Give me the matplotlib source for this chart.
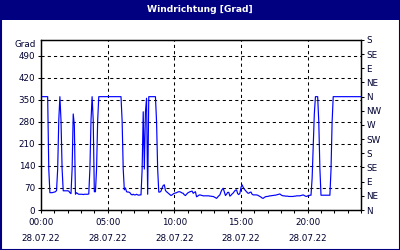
import matplotlib
matplotlib.use("Agg")
import matplotlib.pyplot as plt
from matplotlib.patches import Rectangle
from matplotlib.ticker import MultipleLocator, FixedLocator
import numpy as np

# wind direction [deg], 5 minute samples, 28.07.22 00:00 .. 24:00 (one row per hour)
richtung = [
    360, 360, 360, 360, 360, 360, 360, 130, 55, 55, 55, 56,
    57, 58, 62, 130, 285, 360, 285, 130, 61, 61, 61, 61,
    61, 60, 55, 52, 130, 305, 270, 50, 55, 52, 50, 50,
    50, 50, 49, 50, 50, 50, 50, 51, 130, 284, 360, 284,
    58, 58, 130, 284, 360, 360, 360, 360, 360, 360, 360, 360,
    360, 360, 360, 360, 360, 360, 360, 360, 360, 360, 360, 360,
    360, 284, 130, 64, 70, 58, 57, 57, 55, 50, 48, 50,
    48, 48, 50, 48, 47, 48, 48, 127, 312, 130, 312, 355,
    50, 360, 360, 360, 360, 360, 360, 360, 280, 130, 57, 57,
    60, 70, 78, 80, 62, 58, 55, 52, 49, 46, 48, 51,
    53, 54, 55, 57, 58, 58, 56, 54, 53, 48, 46, 50,
    54, 56, 58, 59, 60, 53, 56, 58, 42, 44, 47, 48,
    47, 46, 45, 45, 45, 45, 45, 45, 44, 44, 43, 43,
    41, 39, 37, 41, 45, 48, 58, 65, 69, 57, 46, 50,
    56, 56, 44, 47, 51, 54, 59, 63, 64, 52, 49, 53,
    72, 80, 72, 66, 62, 58, 54, 53, 56, 57, 50, 48,
    48, 48, 48, 47, 45, 43, 41, 38, 37, 40, 42, 43,
    43, 44, 45, 45, 46, 46, 47, 47, 48, 49, 50, 51,
    48, 46, 45, 45, 44, 44, 44, 43, 43, 43, 43, 43,
    44, 44, 45, 45, 45, 45, 46, 47, 48, 46, 44, 43,
    45, 45, 47, 47, 100, 200, 306, 360, 360, 360, 280, 131,
    47, 47, 47, 47, 47, 47, 47, 47, 47, 127, 280, 360,
    360, 360, 360, 360, 360, 360, 360, 360, 360, 360, 360, 360,
    360, 360, 360, 360, 360, 360, 360, 360, 360, 360, 360, 360,
    360,
]
stunden = np.arange(len(richtung)) / 12.0

x_ticks = [0, 5, 10, 15, 20]
x_labels = ["00:00\n28.07.22", "05:00\n28.07.22", "10:00\n28.07.22",
            "15:00\n28.07.22", "20:00\n28.07.22"]
y_ticks = [0, 70, 140, 210, 280, 350, 420, 490]
kompass = ["N", "NE", "E", "SE", "S", "SW", "W", "NW", "N", "NE", "E", "SE", "S"]
kompass_grad = [45 * i for i in range(len(kompass))]

navy = "#000080"
txt = "#000030"

fig = plt.figure(figsize=(4, 2.5), dpi=100)
fig.patch.set_facecolor("white")

# title bar + frame
fig.patches.append(Rectangle((0, 1 - 20 / 250), 1, 20 / 250, transform=fig.transFigure,
                             facecolor=navy, edgecolor="none", zorder=0))
fig.patches.append(Rectangle((0.5 / 400, 0.5 / 250), 1 - 1 / 400, 1 - 1 / 250,
                             transform=fig.transFigure, facecolor="none",
                             edgecolor=navy, linewidth=1.5, zorder=5))
fig.text(0.5, 1 - 9.5 / 250, "Windrichtung [Grad]", color="white", fontsize=6.6,
         fontweight="bold", ha="center", va="center")

ax = fig.add_axes([41 / 400, 40 / 250, 320 / 400, 170 / 250])
ax.plot(stunden, richtung, color="#0000ff", linewidth=0.85, zorder=3)

ax.set_xlim(0, 24)
ax.set_ylim(0, 540)

ax.set_xticks(x_ticks)
ax.set_xticklabels(x_labels, linespacing=2.0)
ax.xaxis.set_minor_locator(MultipleLocator(1))
ax.set_yticks(y_ticks)

for v in x_ticks[1:]:
    ax.axvline(v, color="black", linewidth=0.75, linestyle=(0, (3, 3)), zorder=2)
for v in y_ticks[1:]:
    ax.axhline(v, color="black", linewidth=0.75, linestyle=(0, (3, 3)), zorder=2)

ax.tick_params(axis="both", which="both", direction="out", length=2.5, width=0.75,
               colors="black", labelcolor=txt, labelsize=6.3)
ax.tick_params(axis="x", pad=3.5)
ax.tick_params(axis="y", pad=1.5)
for s in ax.spines.values():
    s.set_linewidth(0.9)
    s.set_color("black")

ax2 = ax.twinx()
ax2.set_ylim(0, 540)
ax2.yaxis.set_major_locator(FixedLocator(kompass_grad))
ax2.set_yticklabels(kompass)
ax2.tick_params(axis="y", direction="out", length=2.5, width=0.75, colors="black",
                labelcolor=txt, labelsize=6.3, pad=1.5)
for s in ax2.spines.values():
    s.set_linewidth(0.9)

ax.text(-0.015, 1.0, "Grad", transform=ax.transAxes, ha="right", va="top",
        fontsize=6.3, color=txt)

fig.savefig("out.png", dpi=100)
